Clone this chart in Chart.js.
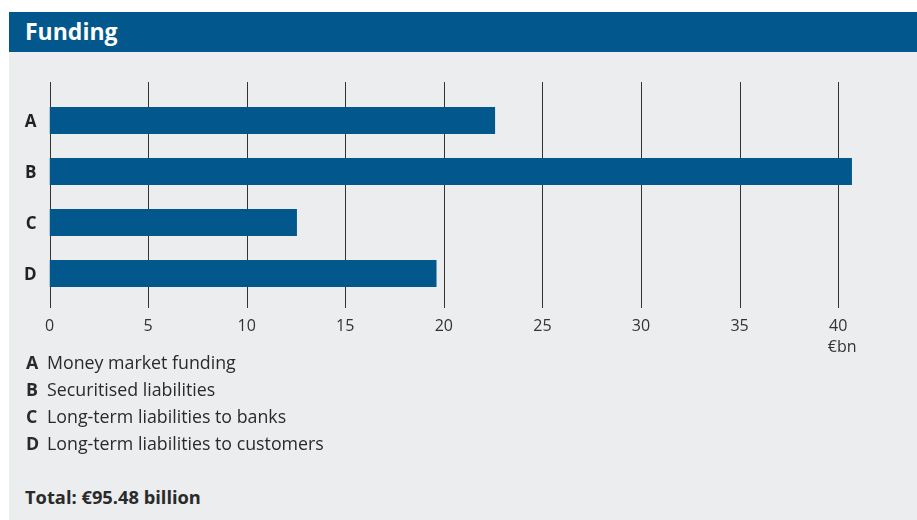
<!DOCTYPE html>
<html>
<head>
<meta charset="utf-8">
<script src="https://cdn.jsdelivr.net/npm/chart.js@4"></script>
<style>
  html, body { margin: 0; padding: 0; background: #fff; }
  body { width: 917px; height: 520px; position: relative; overflow: hidden; font-family: "Open Sans", sans-serif; }
  #titulo { position: absolute; left: 9px; top: 12px; width: 908px; height: 40px; background: #02588C; color: #fff;
            font-weight: bold; font-size: 23px; line-height: 38px; box-sizing: border-box; padding-left: 16px; }
  #panel { position: absolute; left: 9px; top: 52px; width: 908px; height: 468px; background: #ECEDEF; }
  #grafico { position: absolute; left: 0; top: 0; }
  #leyenda { position: absolute; left: 17px; top: 298px; color: #2a2a2a; font-size: 17.8px; }
  .fila { height: 27px; line-height: 24px; white-space: nowrap; }
  .fila b { display: inline-block; width: 21px; font-weight: bold; }
  #total { position: absolute; left: 16px; top: 432px; font-size: 18.3px; font-weight: bold; color: #2a2a2a; }
</style>
</head>
<body>
<div id="titulo">Funding</div>
<div id="panel">
  <canvas id="grafico" width="908" height="300"></canvas>
  <div id="leyenda"></div>
  <div id="total">Total: €95.48 billion</div>
</div>
<script>
const categorias = ["A", "B", "C", "D"];
const descripciones = [
  "Money market funding",
  "Securitised liabilities",
  "Long-term liabilities to banks",
  "Long-term liabilities to customers",
];
const valores = [22.6, 40.7, 12.55, 19.63];
const marcas = [0, 5, 10, 15, 20, 25, 30, 35, 40];
const unidad = "€bn";

const leyenda = document.getElementById("leyenda");
categorias.forEach((c, i) => {
  const fila = document.createElement("div");
  fila.className = "fila";
  fila.innerHTML = "<b>" + c + "</b>" + descripciones[i];
  leyenda.appendChild(fila);
});

// vertical lines drawn behind the bars, a bit longer than the plot area
const lineasVerticales = {
  id: "lineasVerticales",
  beforeDatasetsDraw(chart) {
    const ctx = chart.ctx;
    const x = chart.scales.x;
    const area = chart.chartArea;
    ctx.save();
    ctx.strokeStyle = "#333333";
    ctx.lineWidth = 1;
    marcas.forEach((v) => {
      const px = Math.round(x.getPixelForValue(v)) + 0.5;
      ctx.beginPath();
      ctx.moveTo(px, area.top - 13);
      ctx.lineTo(px, area.bottom + 9);
      ctx.stroke();
    });
    ctx.fillStyle = "#333333";
    ctx.font = "16px 'Open Sans'";
    ctx.textAlign = "center";
    ctx.textBaseline = "middle";
    ctx.fillText(unidad, x.getPixelForValue(40) + 4, area.bottom + 48);
    ctx.restore();
  },
};

new Chart(document.getElementById("grafico"), {
  type: "bar",
  data: {
    labels: categorias,
    datasets: [
      {
        data: valores,
        backgroundColor: "#02588C",
        borderWidth: 0,
        categoryPercentage: 1,
        barPercentage: 0.53,
      },
    ],
  },
  options: {
    indexAxis: "y",
    responsive: false,
    animation: false,
    layout: { padding: { top: 43, left: 0, right: 0, bottom: 0 } },
    plugins: { legend: { display: false }, tooltip: { enabled: false } },
    scales: {
      x: {
        min: 0,
        max: 44,
        afterBuildTicks: (scale) => {
          scale.ticks = marcas.map((v) => ({ value: v }));
        },
        afterFit: (scale) => {
          scale.height = 53;
        },
        grid: { display: false, drawTicks: false },
        border: { display: false },
        ticks: { padding: 18, color: "#333333", font: { family: "Open Sans", size: 16 } },
      },
      y: {
        afterFit: (scale) => {
          scale.width = 40.5;
        },
        grid: { display: false },
        border: { display: false },
        ticks: { padding: 5, labelOffset: 2, color: "#222222", font: { family: "Open Sans", size: 17, weight: "bold" } },
      },
    },
  },
  plugins: [lineasVerticales],
});
</script>
</body>
</html>
